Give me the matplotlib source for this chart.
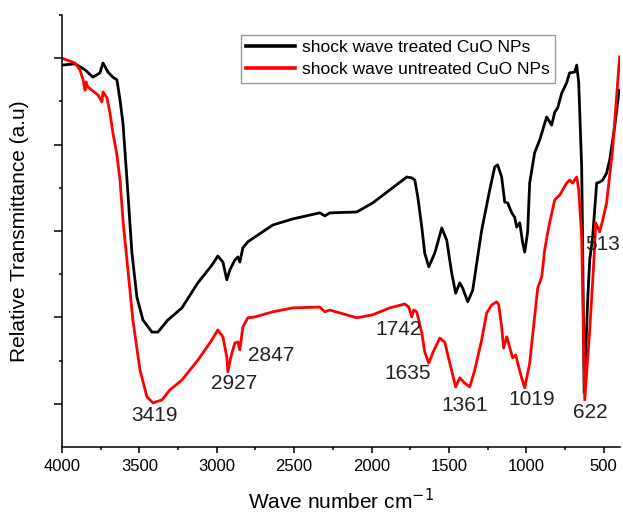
import matplotlib
matplotlib.use("Agg")
import matplotlib.pyplot as plt
from matplotlib.ticker import MultipleLocator, FixedLocator

plt.rcParams['font.family'] = ['Liberation Sans', 'DejaVu Sans']

# shock wave treated CuO NPs (black)
treated_wn = [4000, 3916, 3851, 3800, 3755, 3735, 3703, 3671, 3645, 3625, 3606, 3580,
              3548, 3516, 3477, 3419, 3380, 3316, 3225, 3122, 3031, 2993, 2960, 2935,
              2915, 2883, 2863, 2851, 2831, 2799, 2754, 2637, 2508, 2334, 2302, 2269,
              2095, 1992, 1882, 1772, 1740, 1720, 1701, 1675, 1656, 1630, 1591, 1546,
              1514, 1482, 1456, 1430, 1411, 1378, 1346, 1314, 1288, 1236, 1204, 1185,
              1159, 1139, 1120, 1094, 1075, 1062, 1042, 1023, 1010, 991, 978, 946,
              913, 868, 836, 816, 797, 771, 739, 720, 687, 674, 661, 642, 636, 626,
              603, 590, 571, 545, 526, 506, 481, 461, 429, 400]
treated_t = [88.4, 88.7, 87.3, 85.6, 86.6, 88.9, 86.8, 85.6, 85.0, 80.3, 75.0, 61.8,
             44.9, 34.7, 29.4, 26.6, 26.6, 29.4, 32.2, 38.0, 42.1, 44.2, 42.8, 38.7,
             41.0, 43.3, 44.0, 42.8, 46.1, 47.5, 48.6, 51.4, 52.8, 54.2, 53.5, 54.2,
             54.4, 56.5, 59.5, 62.5, 62.3, 61.8, 57.9, 50.9, 44.9, 41.7, 44.9, 50.7,
             47.9, 40.3, 35.6, 38.0, 36.8, 33.6, 36.3, 44.0, 50.2, 59.5, 64.8, 65.3,
             62.5, 56.7, 56.5, 54.2, 53.2, 50.9, 51.9, 47.2, 45.1, 49.8, 61.1, 68.1,
             71.1, 76.4, 74.5, 77.5, 78.5, 81.9, 84.3, 86.6, 86.8, 88.4, 84.3, 64.8, 48.6, 12.5,
             34.0, 43.3, 48.6, 61.1, 61.3, 61.8, 63.4, 66.4, 74.1, 82.6]

# shock wave untreated CuO NPs (red)
untreated_wn = [4000, 3916, 3884, 3864, 3851, 3845, 3832, 3768, 3742, 3735, 3709, 3690,
                3671, 3645, 3625, 3606, 3574, 3542, 3496, 3451, 3412, 3354, 3303, 3225,
                3122, 3031, 2993, 2960, 2935, 2928, 2909, 2883, 2863, 2851, 2831, 2799,
                2754, 2637, 2508, 2334, 2302, 2269, 2095, 1992, 1882, 1785, 1759, 1740,
                1727, 1708, 1675, 1656, 1630, 1604, 1559, 1527, 1494, 1456, 1430, 1398,
                1365, 1333, 1288, 1256, 1223, 1191, 1178, 1159, 1146, 1126, 1107, 1088,
                1068, 1055, 1030, 1010, 978, 946, 926, 900, 881, 862, 849, 816, 784,
                765, 739, 720, 700, 674, 661, 642, 622, 590, 577, 558, 552, 539, 526,
                506, 481, 442, 397]
untreated_t = [90.0, 88.9, 87.3, 85.0, 82.6, 84.5, 83.3, 81.5, 79.9, 82.2, 80.8, 77.3,
               72.7, 67.6, 61.8, 52.5, 41.0, 29.4, 17.8, 11.6, 10.2, 10.9, 13.2, 15.5,
               20.1, 24.8, 27.1, 25.5, 20.8, 17.4, 20.8, 24.1, 24.3, 22.5, 27.8, 29.9,
               30.1, 31.3, 32.2, 32.4, 31.3, 31.7, 29.9, 30.6, 32.2, 33.1, 32.4, 30.1,
               31.7, 31.3, 26.4, 22.0, 19.4, 21.8, 25.2, 24.3, 19.4, 13.9, 16.0, 14.8,
               13.9, 17.8, 24.8, 31.0, 32.9, 33.6, 32.9, 27.8, 22.9, 25.5, 23.1, 20.6,
               21.3, 19.4, 16.0, 13.7, 19.4, 30.1, 36.8, 39.4, 45.6, 49.5, 51.9, 57.2, 58.3,
               59.5, 61.1, 61.8, 61.1, 62.5, 59.5, 48.6, 10.9, 27.1, 34.7, 46.3, 51.9, 50.9, 49.8,
               52.5, 56.5, 68.8, 90.3]

peak_labels = ['3419', '2927', '2847', '1742', '1635', '1361', '1019', '622', '513']
label_pos = [(3399, 7.4), (2889, 14.8), (2650, 21.1), (1824, 27.1), (1766, 16.9),
             (1398, 9.5), (965, 10.9), (584, 7.9), (506, 46.8)]

fig = plt.figure(figsize=(6.23, 5.14), dpi=100)
ax = fig.add_axes([0.0995, 0.1304, 0.8955, 0.8404])

ax.plot(treated_wn, treated_t, color='black', lw=2.0, label='shock wave treated CuO NPs')
ax.plot(untreated_wn, untreated_t, color='#ff0000', lw=2.0, label='shock wave untreated CuO NPs')

for txt, (x, y) in zip(peak_labels, label_pos):
    ax.text(x, y, txt, fontsize=15, ha='center', va='center', color='#222222')

ax.set_xlim(4000, 395)
ax.set_ylim(0, 100)
ax.xaxis.set_major_locator(FixedLocator([4000, 3500, 3000, 2500, 2000, 1500, 1000, 500]))
ax.xaxis.set_minor_locator(FixedLocator([3750, 3250, 2750, 2250, 1750, 1250, 750]))
ax.yaxis.set_major_locator(FixedLocator([10, 30, 50, 70, 90]))
ax.yaxis.set_minor_locator(FixedLocator([20, 40, 60, 80, 100]))
ax.set_yticklabels([])

ax.spines['top'].set_visible(False)
ax.spines['right'].set_visible(False)
for s in ['left', 'bottom']:
    ax.spines[s].set_linewidth(1.1)

ax.tick_params(axis='x', which='major', length=4, width=1.1, labelsize=12, pad=5)
ax.tick_params(axis='x', which='minor', length=2.5, width=1.1)
ax.tick_params(axis='y', which='major', length=6, width=1.1)
ax.tick_params(axis='y', which='minor', length=2.5, width=1.1)

ax.set_xlabel('Wave number cm$^{-1}$', fontsize=15, labelpad=10)
ax.set_ylabel('Relative Transmittance (a.u)', fontsize=15, labelpad=14)

leg = ax.legend(loc='upper right', bbox_to_anchor=(0.8835, 0.9537), fontsize=12.5,
                frameon=True, fancybox=False, edgecolor='#999999', framealpha=1,
                borderpad=0.3, labelspacing=0.4, handlelength=2.8, handletextpad=0.4,
                borderaxespad=0)
for line in leg.get_lines():
    line.set_linewidth(2.6)

fig.savefig('out.png', dpi=100)
